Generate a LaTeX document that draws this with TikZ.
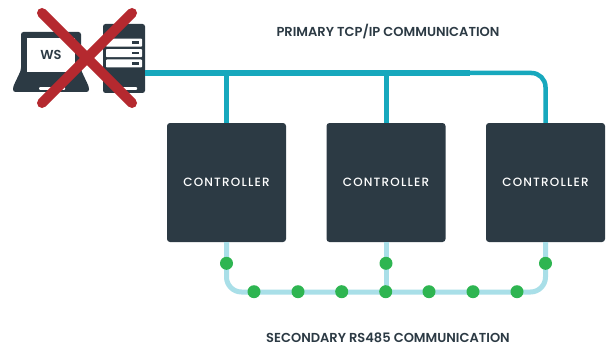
\documentclass[tikz,border=0pt]{standalone}
\usepackage{fontspec}
\setmainfont{Poppins}[UprightFont=* SemiBold]
\newfontface\ctrlfont{Poppins Medium}[LetterSpace=10]
\usetikzlibrary{positioning}
\definecolor{slate}{HTML}{2C3A44}
\definecolor{tealbus}{HTML}{17A8BD}
\definecolor{palebus}{HTML}{A9DFE8}
\definecolor{tapgreen}{HTML}{2EB551}
\definecolor{crossred}{HTML}{B5292F}
\tikzstyle{controller}=[fill=slate,rectangle,rounded corners=3pt,minimum width=119pt,minimum height=119pt,
  text=white,font=\ctrlfont\fontsize{12}{14}\selectfont,inner sep=0pt]
\tikzstyle{caption}=[text=slate,font=\fontsize{13}{15}\selectfont,inner sep=0pt]
\tikzstyle{tap}=[fill=tapgreen,circle,minimum size=13pt,inner sep=0pt]
\tikzstyle{primary}=[draw=tealbus,line width=5pt]
\tikzstyle{secondary}=[draw=palebus,line width=5pt]
\tikzstyle{drive}=[fill=white,rectangle,rounded corners=.8pt,minimum width=36pt,minimum height=8pt,inner sep=0pt]
\tikzstyle{slot}=[fill=slate,rectangle,minimum width=7pt,minimum height=2.5pt,inner sep=0pt]
\tikzstyle{crossbar}=[draw=crossred,line width=10pt,line cap=round]

\begin{document}
\begin{tikzpicture}[x=1pt,y=-1pt,node distance=159.5pt]
  \useasboundingbox (0,0) rectangle (608,345);
  \fill[white] (0,0) rectangle (608,345);
  % controllers
  \node[controller] (ctrlA) at (226.5,182.5) {CONTROLLER};
  \node[controller, right of=ctrlA] (ctrlB) {CONTROLLER};
  \node[controller, right of=ctrlB] (ctrlC) {CONTROLLER};
  % laptop
  \fill[slate,rounded corners=2.5pt] (21,32) -- (81,32) -- (81,70) -- (89,87) -- (89,92) -- (13,92) -- (13,87) -- (21,70) -- cycle;
  \node[fill=white,rectangle,minimum width=48pt,minimum height=34pt,inner sep=0pt,text=slate,
    font=\fontsize{13}{15}\selectfont] (ws) at (51,55) {WS};
  \node[fill=white,rectangle,rounded corners=.8pt,minimum width=26pt,minimum height=2.6pt,inner sep=0pt] (wsbase) at (52,88.5) {};
  % server
  \node[fill=slate,rectangle,rounded corners=2.5pt,minimum width=42pt,minimum height=69pt,inner sep=0pt] (server) at (124,58.5) {};
  \node[drive] (driveA) at (124,42.7) {};
  \node[drive, below=2pt of driveA] (driveB) {};
  \node[drive, below=2pt of driveB] (driveC) {};
  \foreach \d in {driveA,driveB,driveC}
    \node[slot] (slot\d) at ([xshift=-6.5pt]\d.east) {};
  \node[fill=white,rectangle,rounded corners=.8pt,minimum width=22pt,minimum height=2.6pt,inner sep=0pt] (srvbase) at (126,88.5) {};
  % primary bus
  \coordinate (busstart) at (145,73);
  \coordinate (busturn) at (470,73);
  \draw[primary,line width=5.5pt] (busstart) -- (busturn);
  \draw[primary,line width=4.5pt,rounded corners=14pt] (busturn) -- (ctrlC.north |- busturn) -- (ctrlC.north);
  \draw[primary] (ctrlA.north |- busstart) -- (ctrlA.north);
  \draw[primary] (ctrlB.north |- busstart) -- (ctrlB.north);
  % secondary bus
  \coordinate (rsleft) at (226.5,292);
  \draw[secondary,rounded corners=15pt] (ctrlA.south) -- (ctrlA.south |- rsleft) -- (ctrlC.south |- rsleft) -- (ctrlC.south);
  \draw[secondary] (ctrlB.south) -- (ctrlB.south |- rsleft);
  % taps
  \node[tap] (tapA) at (226.5,263.3) {};
  \node[tap, right of=tapA] (tapB) {};
  \node[tap, right of=tapB] (tapC) {};
  \foreach \x [count=\i] in {254,298,341.7,385.7,429,473,517}
    \node[tap] (rs\i) at (\x,291.7) {};
  % captions
  \node[caption] (primarytxt) at (388,32) {PRIMARY TCP/IP COMMUNICATION};
  \node[caption] (secondarytxt) at (388,337.5) {SECONDARY RS485 COMMUNICATION};
  % cross
  \coordinate (xa) at (42,13);
  \coordinate (xb) at (132,103);
  \coordinate (xc) at (132,13);
  \coordinate (xd) at (42,103);
  \draw[crossbar] (xa) -- (xb);
  \draw[crossbar] (xc) -- (xd);
\end{tikzpicture}
\end{document}
